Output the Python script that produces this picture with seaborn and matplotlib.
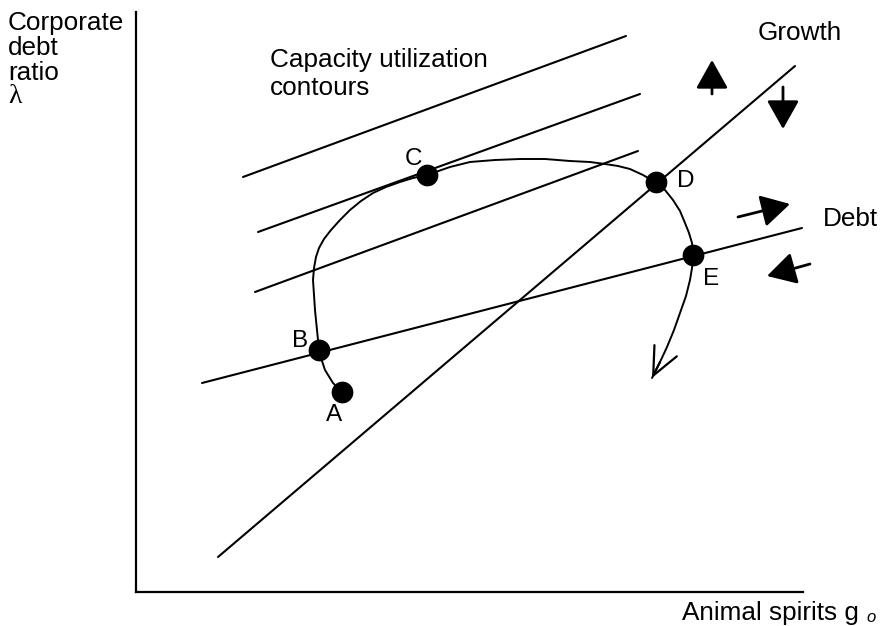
import matplotlib
matplotlib.use("Agg")
import matplotlib.pyplot as plt
import seaborn as sns
import pandas as pd

# pixel-like coordinates (y grows downward)
contour_x = [[243, 626], [258, 640], [255, 638]]
contour_y = [[177, 36], [232, 94], [292, 151]]

debt_x = [202, 802]
debt_y = [383, 228]
growth_x = [218, 795]
growth_y = [557, 66]

# the trajectory A -> B -> C -> D -> E -> down
path_x = [342, 333, 325, 321, 319, 317, 315, 314, 313, 314, 316, 319, 324, 331, 340, 350, 361,
          373, 386, 400, 413, 427, 450, 470, 495, 520, 545, 570, 590, 605, 618, 630, 643,
          655, 665, 673, 680, 685, 689, 692, 693, 692, 690, 686, 680, 674, 667, 660, 652]
path_y = [392, 383, 370, 358, 350, 330, 310, 295, 280, 268, 257, 248, 239, 230, 220, 210, 201,
          193, 187, 182, 178, 175, 167, 162, 160, 159, 159, 161, 162, 164, 166, 169, 175,
          182, 190, 200, 211, 223, 233, 243, 255, 268, 280, 296, 313, 330, 347, 362, 378]

point_names = ["A", "B", "C", "D", "E"]
point_x = [342, 319, 427, 656, 693]
point_y = [392, 350, 175, 182, 255]

sns.set_theme(style="white")
plt.rcParams["font.family"] = ["Liberation Sans", "DejaVu Sans"]
plt.rcParams["text.color"] = "black"

fig = plt.figure(figsize=(8.81, 6.26), dpi=100)
W, H = 881, 626
ax = fig.add_axes([136 / W, (H - 592) / H, (803 - 136) / W, (592 - 12) / H])
ax.set_xlim(136, 803)
ax.set_ylim(592, 12)
for s in ["top", "right"]:
    ax.spines[s].set_visible(False)
for s in ["left", "bottom"]:
    ax.spines[s].set_color("black")
    ax.spines[s].set_linewidth(1.6)
ax.set_xticks([])
ax.set_yticks([])

lw = 1.5
for cx, cy in zip(contour_x, contour_y):
    sns.lineplot(x=cx, y=cy, ax=ax, color="black", lw=lw, sort=False, clip_on=False)
sns.lineplot(x=debt_x, y=debt_y, ax=ax, color="black", lw=lw, sort=False, clip_on=False)
sns.lineplot(x=growth_x, y=growth_y, ax=ax, color="black", lw=lw, sort=False, clip_on=False)

path = pd.DataFrame({"x": path_x, "y": path_y})
sns.lineplot(data=path, x="x", y="y", ax=ax, color="black", lw=1.4, sort=False,
             estimator=None, clip_on=False)
# open arrow head at the end of the trajectory
ax.annotate("", xy=(path_x[-1], path_y[-1]), xytext=(path_x[-2], path_y[-2]),
            arrowprops=dict(arrowstyle="->,head_length=1.0,head_width=0.45",
                            mutation_scale=20, color="black", lw=1.6,
                            shrinkA=0, shrinkB=0))

sns.scatterplot(x=point_x, y=point_y, ax=ax, color="black", s=210, zorder=5,
                edgecolor="black", clip_on=False)

# direction arrows
arrow_kw = dict(arrowstyle="-|>,head_length=0.8,head_width=0.45", mutation_scale=22,
                color="black", lw=2, shrinkA=0, shrinkB=0)
ax.annotate("", xy=(712, 60), xytext=(712, 94), arrowprops=arrow_kw)
ax.annotate("", xy=(783, 129), xytext=(783, 87), arrowprops=arrow_kw)
ax.annotate("", xy=(790, 204), xytext=(738, 217), arrowprops=arrow_kw)
ax.annotate("", xy=(767, 276), xytext=(810, 264), arrowprops=arrow_kw)

# point labels
fs = 17.5
ax.text(413, 165, "C", fontsize=fs, ha="center", va="baseline")
ax.text(300, 347, "B", fontsize=fs, ha="center", va="baseline")
ax.text(334, 421, "A", fontsize=fs, ha="center", va="baseline")
ax.text(677, 187, "D", fontsize=fs, ha="left", va="baseline")
ax.text(703, 285, "E", fontsize=fs, ha="left", va="baseline")

big = 18.8
ax.text(270, 67, "Capacity utilization", fontsize=big, va="baseline")
ax.text(270, 95, "contours", fontsize=big, va="baseline")
ax.text(758, 40, "Growth", fontsize=big, va="baseline", clip_on=False)
ax.text(823, 226, "Debt", fontsize=big, va="baseline", clip_on=False)

fig.text(8 / W, 1 - 30 / H, "Corporate", fontsize=big, va="baseline")
fig.text(8 / W, 1 - 55 / H, "debt", fontsize=big, va="baseline")
fig.text(8 / W, 1 - 80 / H, "ratio", fontsize=big, va="baseline")
fig.text(8 / W, 1 - 103 / H, "λ", fontsize=20, va="baseline", family="Liberation Serif")

fig.text(859 / W, 1 - 620 / H, "Animal spirits g", fontsize=big, ha="right", va="baseline")
fig.text(866 / W, 1 - 622 / H, "o", fontsize=12, style="italic", ha="left", va="baseline")

fig.savefig("out.png", dpi=100)
